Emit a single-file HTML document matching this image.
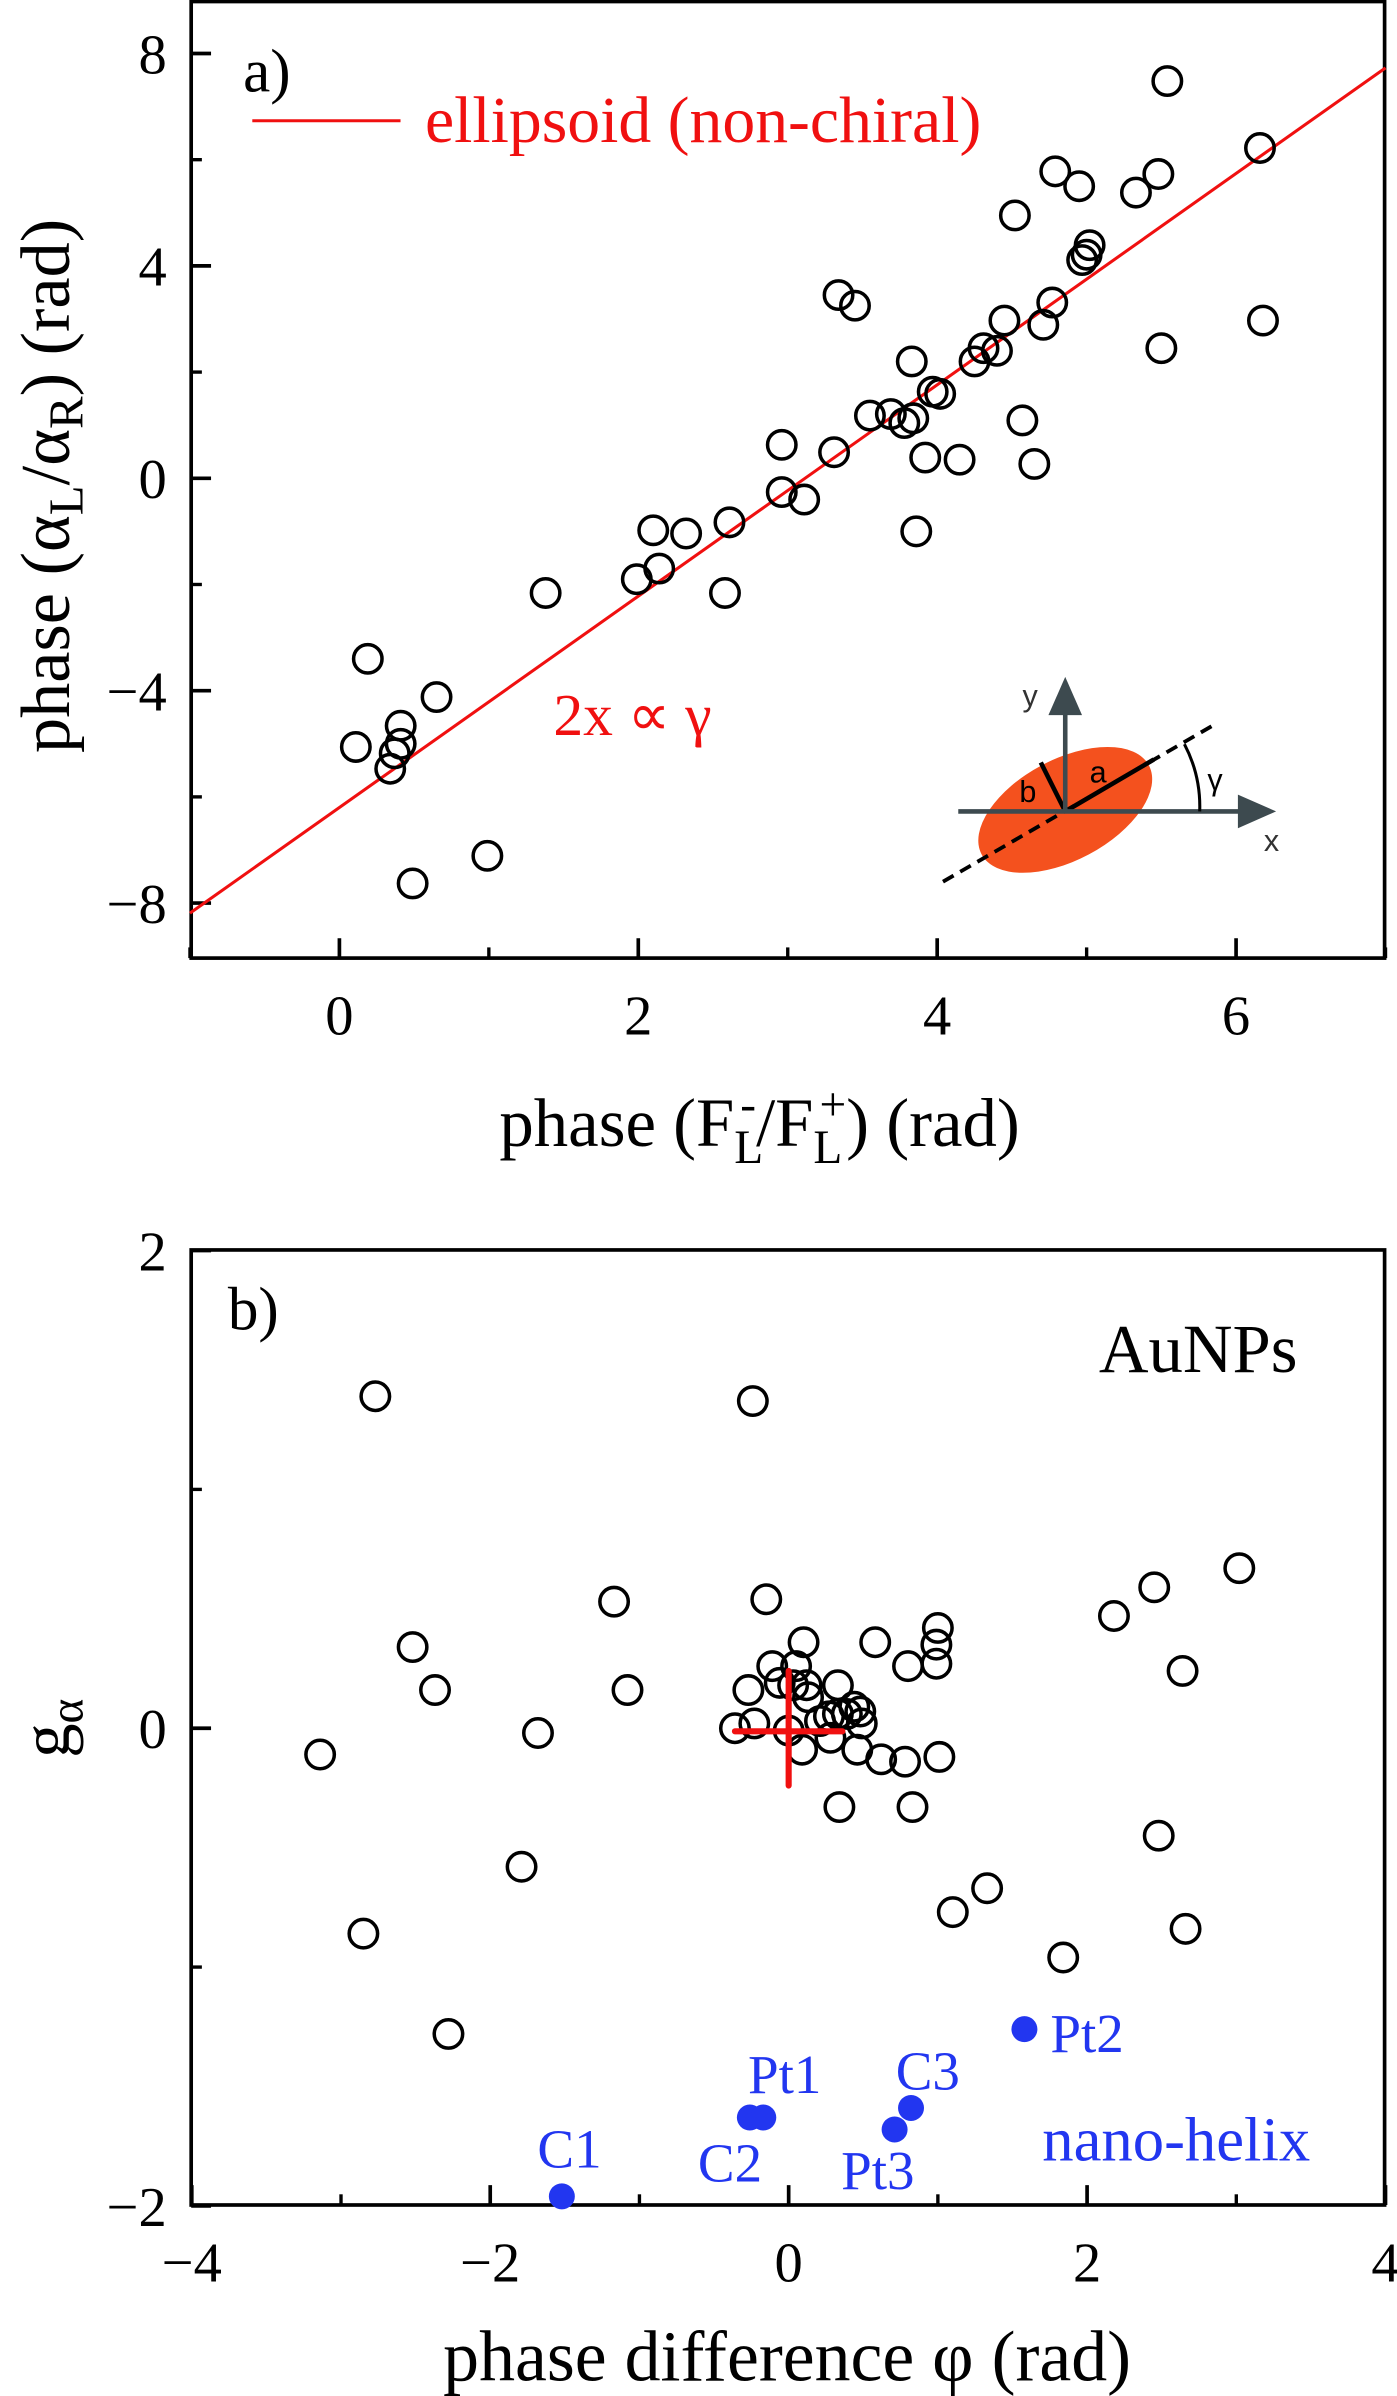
<!DOCTYPE html>
<html><head><meta charset="utf-8"><style>
html,body{margin:0;padding:0;background:#fff;}
svg{display:block;font-family:"Liberation Serif",serif;}
</style></head><body>
<svg id="fig" width="1397" height="2396" viewBox="0 0 914 1568" xmlns="http://www.w3.org/2000/svg">
<g id="pa"></g>
<g id="pb"></g>
</svg>
<script>
// ---- Panel a data ----
const aX = [0.11,0.19,0.34,0.41,0.41,0.37,0.49,0.65,0.99,1.38,1.99,2.10,2.14,2.32,2.58,2.61,2.96,2.96,3.11,3.31,3.34,3.45,3.55,3.69,3.78,3.84,3.83,3.92,3.86,3.97,4.02,4.15,4.25,4.31,4.40,4.45,4.52,4.57,4.65,4.71,4.77,4.79,4.95,4.97,5.0,5.02,5.33,5.48,5.50,5.54,6.16,6.18];
const aY = [-5.06,-3.40,-5.47,-4.66,-5.0,-5.18,-7.63,-4.12,-7.11,-2.16,-1.90,-0.98,-1.70,-1.04,-2.16,-0.83,0.63,-0.26,-0.40,0.49,3.45,3.25,1.18,1.21,1.04,1.13,2.20,0.39,-1.0,1.63,1.59,0.35,2.20,2.45,2.40,2.97,4.95,1.09,0.27,2.89,3.31,5.78,5.5,4.11,4.21,4.39,5.38,5.73,2.45,7.48,6.22,2.97];
const aFitX = [-1,7];
const aFitSlope = 1.99, aFitIntercept = -6.2;
const aXTicks = [0,2,4,6], aXMinor = [-1,1,3,5,7];
const aYTicks = [-8,-4,0,4,8], aYMinor = [-6,-2,2,6];
const aYTickLabels = ["\u22128","\u22124","0","4","8"];
// ---- Panel b data ----
const bX = [-3.14,-2.77,-2.85,-2.52,-2.37,-2.28,-1.79,-1.68,-1.17,-1.08,-0.24,-0.15,0.10,0.58,1.0,0.99,0.99,0.80,-0.11,0.05,-0.27,-0.06,0.03,0.12,0.13,0.33,0.27,0.33,0.44,0.39,0.48,-0.36,-0.23,0.0,0.09,0.28,0.49,0.46,0.62,0.78,1.01,0.34,0.83,0.21,1.10,1.33,1.84,2.18,2.45,3.02,2.64,2.48,2.66];
const bY = [-0.11,1.39,-0.86,0.34,0.16,-1.28,-0.58,-0.02,0.53,0.16,1.37,0.54,0.36,0.36,0.42,0.35,0.27,0.26,0.26,0.26,0.16,0.19,0.18,0.18,0.13,0.18,0.05,0.06,0.09,0.06,0.07,0.0,0.02,-0.01,-0.09,-0.04,0.02,-0.09,-0.13,-0.14,-0.12,-0.33,-0.33,0.03,-0.77,-0.67,-0.96,0.47,0.59,0.67,0.24,-0.45,-0.84];
const blueX = [-1.52,-0.26,-0.17,0.82,0.71,1.58];
const blueY = [-1.96,-1.63,-1.63,-1.59,-1.68,-1.26];
const blueLabels = ["C1","C2","Pt1","C3","Pt3","Pt2"];
const bXTicks = [-4,-2,0,2,4], bXMinor = [-3,-1,1,3];
const bYTicks = [-2,0,2], bYMinor = [-1,1];
const bXTickLabels = ["\u22124","\u22122","0","2","4"];
const bYTickLabels = ["\u22122","0","2"];
const crossMean = [0,0], crossErrX = 0.36, crossErrY = 0.24;

const NS="http://www.w3.org/2000/svg";
function mk(parent,tag,attrs,text){const e=document.createElementNS(NS,tag);for(const k in attrs)e.setAttribute(k,attrs[k]);if(text!==undefined)e.textContent=text;parent.appendChild(e);return e;}

const ax = v => 222 + (v)*97.8;
const ay = v => 313 - v*34.75;
const bx = v => 516 + v*97.65;
const by = v => 1131 - v*156.3;

const pa=document.getElementById('pa'), pb=document.getElementById('pb');
const TF=37;
const BLUE='#2236f0';

function frame(g,x0,y0,x1,y1,xt,xm,yt,ym,fx,fy,xl,yl,nm){
  let r=mk(g,'rect',{x:x0,y:y0,width:x1-x0,height:y1-y0,fill:'none',stroke:'#000','stroke-width':2.4});
  
  
  xt.forEach((v,i)=>{let t=mk(g,'line',{x1:fx(v),x2:fx(v),y1:y1,y2:y1-13,stroke:'#000','stroke-width':2.4});
    
    
    let l=mk(g,'text',{x:fx(v),y:y1+50,'font-size':TF,'text-anchor':'middle'},xl[i]);
    
    });
  xm.forEach(v=>{let t=mk(g,'line',{x1:fx(v),x2:fx(v),y1:y1,y2:y1-7,stroke:'#000','stroke-width':2.2});
    
    });
  yt.forEach((v,i)=>{let t=mk(g,'line',{x1:x0,x2:x0+13,y1:fy(v),y2:fy(v),stroke:'#000','stroke-width':2.4});
    
    
    let l=mk(g,'text',{x:x0-16,y:fy(v)+13,'font-size':TF,'text-anchor':'end'},yl[i]);
    
    });
  ym.forEach(v=>{let t=mk(g,'line',{x1:x0,x2:x0+7,y1:fy(v),y2:fy(v),stroke:'#000','stroke-width':2.2});
    
    });
}

// ---- Panel a ----
frame(pa,125,1,906,627,aXTicks,aXMinor,aYTicks,aYMinor,ax,ay,aXTicks.map(String),aYTickLabels,'a');
let fit=mk(pa,'line',{x1:ax(aFitX[0]),y1:ay(aFitSlope*aFitX[0]+aFitIntercept),x2:ax(aFitX[1]),y2:ay(aFitSlope*aFitX[1]+aFitIntercept),stroke:'#f01010','stroke-width':2});


aX.forEach((v,i)=>{let c=mk(pa,'circle',{cx:ax(v),cy:ay(aY[i]),r:9.3,fill:'none',stroke:'#000','stroke-width':2.3});
  
  });
let t;
t=mk(pa,'text',{x:159,y:60,'font-size':40},'a)');
t=mk(pa,'line',{x1:165,x2:262,y1:79,y2:79,stroke:'#f01010','stroke-width':2});
t=mk(pa,'text',{x:278,y:93,'font-size':43,fill:'#f01010'},'ellipsoid (non-chiral)');
t=mk(pa,'text',{x:362,y:481,'font-size':39,fill:'#f01010'},'2x \u221d \u03b3');
t=mk(pa,'text',{x:497,y:750,'font-size':45,'text-anchor':'middle'});
t.innerHTML='phase (F<tspan font-size="31" dy="11">L</tspan><tspan font-size="31" dy="-28" dx="-15">-</tspan><tspan dy="17">/F</tspan><tspan font-size="31" dy="11">L</tspan><tspan font-size="31" dy="-28" dx="-15">+</tspan><tspan dy="17">) (rad)</tspan>';

t=mk(pa,'text',{x:0,y:0,'font-size':46,'text-anchor':'middle',transform:'translate(45,318) rotate(-90)'});
t.innerHTML='phase (\u03b1<tspan font-size="32" dy="9">L</tspan><tspan dy="-9">/\u03b1</tspan><tspan font-size="32" dy="9">R</tspan><tspan dy="-9">) (rad)</tspan>';

// inset
const ins=mk(pa,'g',{});
mk(ins,'ellipse',{cx:697,cy:530,rx:62,ry:33,fill:'#f4511e',transform:'rotate(-28 697 530)'});
mk(ins,'line',{x1:617,y1:577,x2:795,y2:474,stroke:'#000','stroke-width':2.5,'stroke-dasharray':'8,5'});
mk(ins,'line',{x1:697,y1:531,x2:755,y2:497,stroke:'#000','stroke-width':3});
mk(ins,'line',{x1:697,y1:531,x2:681,y2:499,stroke:'#000','stroke-width':3});
mk(ins,'line',{x1:627,y1:531,x2:815,y2:531,stroke:'#3d4a4f','stroke-width':3});
mk(ins,'polygon',{points:'835,531 810,520 810,542',fill:'#3d4a4f'});
mk(ins,'line',{x1:697,y1:531,x2:697,y2:465,stroke:'#3d4a4f','stroke-width':3});
mk(ins,'polygon',{points:'697,443 686,468 708,468',fill:'#3d4a4f'});
mk(ins,'path',{d:'M775,487 A88,88 0 0 1 785,531',fill:'none',stroke:'#000','stroke-width':2});
mk(ins,'text',{x:669,y:462,'font-size':20,'font-family':'Liberation Sans, sans-serif',fill:'#333'},'y');
mk(ins,'text',{x:827,y:557,'font-size':20,'font-family':'Liberation Sans, sans-serif',fill:'#333'},'x');
mk(ins,'text',{x:713,y:512,'font-size':20,'font-family':'Liberation Sans, sans-serif'},'a');
mk(ins,'text',{x:667,y:525,'font-size':20,'font-family':'Liberation Sans, sans-serif'},'b');
mk(ins,'text',{x:790,y:517,'font-size':20,'font-family':'Liberation Sans, sans-serif'},'\u03b3');

// ---- Panel b ----
frame(pb,125,818,906,1443,bXTicks,bXMinor,bYTicks,bYMinor,bx,by,bXTickLabels,bYTickLabels,'b');
bX.forEach((v,i)=>{let c=mk(pb,'circle',{cx:bx(v),cy:by(bY[i]),r:9.3,fill:'none',stroke:'#000','stroke-width':2.3});
  
  });
let ch=mk(pb,'line',{x1:bx(crossMean[0]-crossErrX),x2:bx(crossMean[0]+crossErrX),y1:by(crossMean[1])+2,y2:by(crossMean[1])+2,stroke:'#f01010','stroke-width':4,'stroke-linecap':'round'});

let cv=mk(pb,'line',{x1:bx(crossMean[0]),x2:bx(crossMean[0]),y1:by(crossMean[1]+crossErrY),y2:by(crossMean[1]-crossErrY),stroke:'#f01010','stroke-width':4,'stroke-linecap':'round'});

const lblOff=[[-16,-19],[-34,42],[-10,-16],[-10,-12],[-35,39],[17,15]];
blueX.forEach((v,i)=>{let c=mk(pb,'circle',{cx:bx(v),cy:by(blueY[i]),r:8.5,fill:BLUE});
  
  
  let l=mk(pb,'text',{x:bx(v)+lblOff[i][0],y:by(blueY[i])+lblOff[i][1],'font-size':36,fill:BLUE},blueLabels[i]);
  
  });
t=mk(pb,'text',{x:682,y:1414,'font-size':41,fill:BLUE},'nano-helix');
t=mk(pb,'text',{x:149,y:870,'font-size':40},'b)');
t=mk(pb,'text',{x:719,y:898,'font-size':45},'AuNPs');
t=mk(pb,'text',{x:515,y:1558,'font-size':47,'text-anchor':'middle'},'phase difference \u03c6 (rad)');
t=mk(pb,'text',{x:0,y:0,'font-size':45,'text-anchor':'middle',transform:'translate(45,1131) rotate(-90)'});
t.innerHTML='g<tspan font-size="31" dy="9">\u03b1</tspan>';

</script>
</body></html>
